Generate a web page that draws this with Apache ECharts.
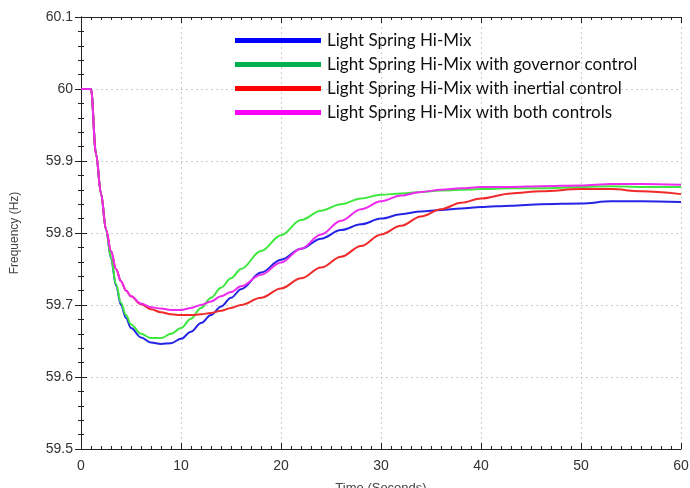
<!DOCTYPE html>
<html>
<head>
<meta charset="utf-8">
<script src="https://cdn.jsdelivr.net/npm/echarts@6/dist/echarts.min.js"></script>
<style>html,body{margin:0;padding:0;background:#fff}#c{width:690px;height:488px}</style>
</head>
<body>
<div id="c"></div>
<script>
const times = [0, 1, 1.5, 2, 2.5, 3, 3.5, 4, 4.5, 5, 6, 7, 8, 9, 10, 11, 12, 13, 14, 15, 16, 18, 20, 22, 24, 26, 28, 30, 32, 34, 36, 38, 40, 43, 46, 50, 53, 56, 60];
const seriesNames = [
  "Light Spring Hi-Mix",
  "Light Spring Hi-Mix with governor control",
  "Light Spring Hi-Mix with inertial control",
  "Light Spring Hi-Mix with both controls"
];
const baseMix = [60, 60, 59.91, 59.855, 59.805, 59.765, 59.727, 59.700, 59.682, 59.668, 59.655, 59.648, 59.646, 59.647, 59.653, 59.663, 59.675, 59.686, 59.698, 59.710, 59.722, 59.745, 59.763, 59.778, 59.792, 59.804, 59.812, 59.820, 59.826, 59.830, 59.832, 59.834, 59.836, 59.838, 59.840, 59.841, 59.844, 59.844, 59.843];
const governor = [60, 60, 59.91, 59.855, 59.805, 59.766, 59.729, 59.703, 59.686, 59.673, 59.660, 59.654, 59.654, 59.660, 59.668, 59.681, 59.696, 59.710, 59.724, 59.737, 59.750, 59.775, 59.797, 59.818, 59.831, 59.840, 59.848, 59.853, 59.855, 59.857, 59.859, 59.860, 59.861, 59.862, 59.862, 59.864, 59.865, 59.864, 59.864];
const inertial = [60, 60, 59.91, 59.855, 59.805, 59.775, 59.750, 59.733, 59.720, 59.712, 59.701, 59.694, 59.690, 59.687, 59.686, 59.686, 59.687, 59.689, 59.692, 59.696, 59.700, 59.710, 59.723, 59.737, 59.752, 59.767, 59.782, 59.798, 59.810, 59.823, 59.833, 59.842, 59.848, 59.855, 59.858, 59.861, 59.861, 59.858, 59.854];
const both = [60, 60, 59.91, 59.855, 59.805, 59.775, 59.750, 59.733, 59.720, 59.712, 59.702, 59.697, 59.695, 59.693, 59.693, 59.696, 59.700, 59.705, 59.712, 59.718, 59.726, 59.742, 59.759, 59.778, 59.798, 59.817, 59.833, 59.844, 59.852, 59.857, 59.860, 59.862, 59.864, 59.864, 59.865, 59.866, 59.868, 59.868, 59.867];
const lineColors = ["#2424e6", "#3ee83e", "#f02a2a", "#ee2aee"];
const legendColors = ["#0000ff", "#00b050", "#ff0000", "#ff00ff"];
const xRange = [0, 60, 10];
const yRange = [59.5, 60.1, 0.1];

const allValues = [baseMix, governor, inertial, both];
const chart = echarts.init(document.getElementById('c'));
const tickFont = {color: '#333', fontSize: 14, fontFamily: 'Liberation Sans'};
const gridBox = {left: 81, right: 9, top: 17, bottom: 39, containLabel: false, outerBoundsMode: 'none'};

function baseX(gi) { return {type: 'value', gridIndex: gi, min: xRange[0], max: xRange[1], interval: xRange[2]}; }
function baseY(gi) { return {type: 'value', gridIndex: gi, min: yRange[0], max: yRange[1], interval: yRange[2]}; }
function tickCfg(split, labels) {
  return {
    axisLine: {show: true, lineStyle: {color: '#222'}},
    axisTick: {show: true, inside: true, length: 6, lineStyle: {color: '#222'}},
    minorTick: {show: true, splitNumber: split, length: 3, lineStyle: {color: '#222'}},
    axisLabel: labels, splitLine: {show: false}
  };
}
const hidden = {show: false};

const xAxes = [
  Object.assign(baseX(0), {position: 'bottom'}, tickCfg(10, Object.assign({margin: 10}, tickFont)), {
    name: 'Time (Seconds)', nameLocation: 'middle', nameGap: 33,
    nameTextStyle: {color: '#444', fontSize: 13, fontFamily: 'Liberation Sans'}
  }),
  Object.assign(baseX(1), {position: 'top'}, tickCfg(10, {show: false})),
  Object.assign(baseX(2), hidden),
  Object.assign(baseX(3), {
    axisLine: {show: false}, axisTick: {show: false}, axisLabel: {show: false},
    splitLine: {show: true, lineStyle: {color: '#ccc', type: [2, 3]}}
  })
];
const yAxes = [
  Object.assign(baseY(0), {position: 'left'}, tickCfg(5, Object.assign({margin: 8, formatter: v => String(+v.toFixed(1))}, tickFont)), {
    name: 'Frequency (Hz)', nameLocation: 'middle', nameGap: 60,
    nameTextStyle: {color: '#444', fontSize: 12, fontFamily: 'Liberation Sans'}
  }),
  Object.assign(baseY(1), hidden),
  Object.assign(baseY(2), {position: 'right'}, tickCfg(5, {show: false})),
  Object.assign(baseY(3), {
    axisLine: {show: false}, axisTick: {show: false}, axisLabel: {show: false},
    splitLine: {show: true, lineStyle: {color: '#ccc', type: [2, 3]}}
  })
];

chart.setOption({
  animation: false,
  backgroundColor: '#fff',
  grid: [gridBox, gridBox, gridBox, gridBox],
  legend: {
    orient: 'vertical', left: 230, top: 27, itemGap: 7,
    icon: 'rect', itemWidth: 86, itemHeight: 5,
    textStyle: {fontFamily: 'Lato', fontSize: 17, color: '#111', padding: [0, 0, 0, 1]},
    data: seriesNames.map((n, i) => ({name: n, itemStyle: {color: legendColors[i]}, lineStyle: {color: legendColors[i]}}))
  },
  xAxis: xAxes,
  yAxis: yAxes,
  series: seriesNames.map((n, i) => ({
    name: n, type: 'line', xAxisIndex: i, yAxisIndex: i,
    showSymbol: false, smooth: 0.35, smoothMonotone: 'x',
    lineStyle: {color: lineColors[i], width: 2},
    itemStyle: {color: legendColors[i]},
    z: [2, 3, 4, 5][i],
    data: times.map((t, k) => [t, allValues[i][k]])
  }))
});
</script>
</body>
</html>
